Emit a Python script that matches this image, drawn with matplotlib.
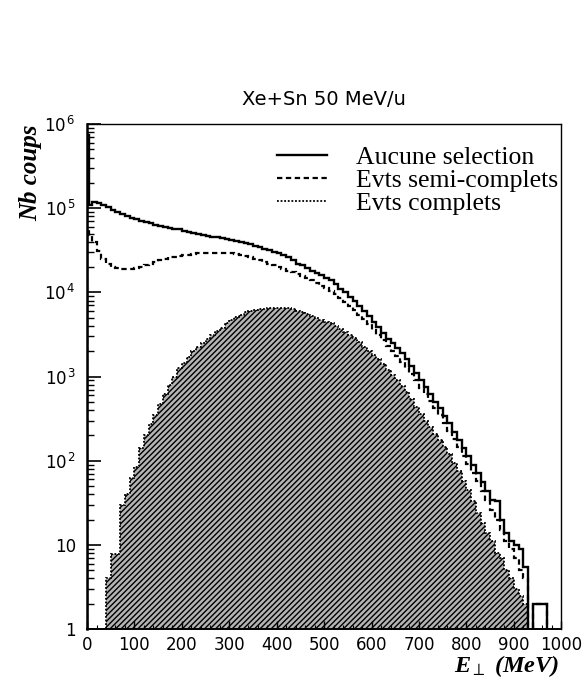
import matplotlib
matplotlib.use("Agg")
import matplotlib.pyplot as plt
import matplotlib.ticker as ticker
import numpy as np

plt.rcParams["font.family"] = "DejaVu Sans"
plt.rcParams["mathtext.fontset"] = "custom"
plt.rcParams["mathtext.it"] = "Liberation Serif:italic:bold"
plt.rcParams["mathtext.rm"] = "Liberation Serif:bold"
plt.rcParams["hatch.linewidth"] = 1.0

# bin edges in MeV (first bin is the narrow peak at zero)
edges = [0, 4] + list(range(10, 1001, 10))

# "Aucune selection"
no_selection = [
    7.5e5, 1.1e5,
    1.2e5, 1.15e5, 1.1e5, 1.02e5, 9.5e4, 9.0e4, 8.5e4, 8.0e4, 7.7e4,
    7.4e4, 7.1e4, 6.8e4, 6.6e4, 6.4e4, 6.2e4, 6.0e4, 5.8e4, 5.7e4, 5.6e4,
    5.4e4, 5.2e4, 5.1e4, 4.9e4, 4.8e4, 4.7e4, 4.6e4, 4.5e4, 4.4e4, 4.3e4,
    4.2e4, 4.1e4, 4.0e4, 3.9e4, 3.8e4, 3.6e4, 3.5e4, 3.3e4, 3.2e4, 3.05e4,
    2.9e4, 2.75e4, 2.6e4, 2.4e4, 2.2e4, 2.1e4, 1.95e4, 1.8e4, 1.7e4, 1.6e4,
    1.5e4, 1.4e4, 1.25e4, 1.1e4, 1.0e4, 8.8e3, 7.8e3, 6.8e3, 6.0e3, 5.2e3,
    4.5e3, 3.9e3, 3.3e3, 2.8e3, 2.5e3, 2.2e3, 1.9e3, 1.6e3, 1.35e3, 1.1e3,
    900, 750, 620, 500, 420, 340, 280, 220, 175, 140,
    115, 90, 72, 56, 44, 34, 33, 20, 14, 11,
    10, 9, 5.5, 0, 2, 2, 2, 0, 0, 0,
]

# "Evts semi-complets"
semi_complete = [
    5.5e4, 4.8e4,
    4.0e4, 3.1e4, 2.5e4, 2.15e4, 2.0e4, 1.95e4, 1.9e4, 1.9e4, 1.9e4,
    1.95e4, 2.0e4, 2.1e4, 2.2e4, 2.3e4, 2.4e4, 2.5e4, 2.6e4, 2.65e4, 2.7e4,
    2.75e4, 2.8e4, 2.85e4, 2.9e4, 2.9e4, 2.95e4, 2.95e4, 2.95e4, 2.95e4, 2.9e4,
    2.9e4, 2.85e4, 2.8e4, 2.7e4, 2.6e4, 2.5e4, 2.4e4, 2.3e4, 2.2e4, 2.1e4,
    2.0e4, 1.9e4, 1.8e4, 1.75e4, 1.65e4, 1.55e4, 1.5e4, 1.4e4, 1.3e4, 1.2e4,
    1.12e4, 1.05e4, 9.5e3, 8.5e3, 7.7e3, 6.9e3, 6.1e3, 5.4e3, 4.8e3, 4.2e3,
    3.6e3, 3.1e3, 2.7e3, 2.3e3, 2.0e3, 1.75e3, 1.5e3, 1.28e3, 1.08e3, 900,
    740, 620, 510, 420, 345, 280, 225, 180, 145, 115,
    92, 72, 57, 44, 34, 26, 20, 15, 11, 9,
    7, 5, 4, 0, 2, 2, 2, 0, 0, 0,
]

# "Evts complets"
complete = [
    0, 0,
    0, 0, 0, 4, 7.8, 7.8, 30, 40, 62,
    85, 140, 200, 270, 350, 470, 620, 800, 1000, 1250,
    1450, 1700, 2000, 2250, 2500, 2800, 3150, 3500, 3800, 4300,
    4700, 5100, 5400, 5800, 6000, 6200, 6300, 6400, 6500, 6550,
    6600, 6600, 6500, 6300, 6000, 5800, 5500, 5200, 5000, 4700,
    4500, 4300, 4000, 3700, 3400, 3150, 2850, 2550, 2250, 2000,
    1800, 1600, 1400, 1200, 1050, 900, 780, 650, 540, 440,
    360, 300, 250, 210, 175, 145, 120, 95, 75, 58,
    45, 33, 24, 18, 14, 11, 8, 7, 5, 4,
    3, 2.5, 2, 0, 0, 0, 0, 0, 0, 0,
]


def floor_zero(values):
    """empty bins go below the axis so the log scale can draw them"""
    arr = np.array(values, dtype=float)
    return np.where(arr > 0, arr, 1e-3)


fig = plt.figure(figsize=(5.84, 6.89), dpi=100)
ax = fig.add_axes([0.149, 0.087, 0.812, 0.733])

ax.stairs(floor_zero(complete), edges, fill=True, baseline=1e-3,
          facecolor="#b4b4b4", edgecolor="black", hatch="//////", linewidth=0)
h3 = ax.stairs(floor_zero(complete), edges, color="black", linewidth=1.3,
               linestyle=(0, (1, 1)), label="Evts complets")
h2 = ax.stairs(floor_zero(semi_complete), edges, color="black", linewidth=1.6,
               linestyle=(0, (2.4, 1.6)), label="Evts semi-complets")
h1 = ax.stairs(floor_zero(no_selection), edges, color="black", linewidth=1.7,
               label="Aucune selection")

ax.set_yscale("log")
ax.set_xlim(0, 1000)
ax.set_ylim(1, 1e6)


def log_label(v, pos):
    if v == 1:
        return "1"
    if v == 10:
        return "10"
    return r"$\mathregular{10^{\,%d}}$" % int(round(np.log10(v)))


ax.yaxis.set_major_locator(ticker.LogLocator(base=10, numticks=10))
ax.yaxis.set_minor_locator(ticker.LogLocator(base=10, subs=np.arange(2, 10), numticks=10))
ax.yaxis.set_major_formatter(ticker.FuncFormatter(log_label))
ax.yaxis.set_minor_formatter(ticker.NullFormatter())
ax.xaxis.set_major_locator(ticker.MultipleLocator(100))
ax.xaxis.set_minor_locator(ticker.MultipleLocator(20))

ax.tick_params(axis="y", which="major", direction="in", length=10, width=1.2,
               labelsize=12, pad=8)
ax.tick_params(axis="y", which="minor", direction="in", length=5, width=1.0)
ax.tick_params(axis="x", which="major", direction="in", length=6, width=1.0,
               labelsize=12, pad=5)
ax.tick_params(axis="x", which="minor", direction="in", length=3, width=0.8)

ax.spines["left"].set_linewidth(1.8)
ax.spines["bottom"].set_linewidth(1.4)
ax.spines["top"].set_linewidth(1.0)
ax.spines["right"].set_linewidth(1.0)

ax.legend(handles=[h1, h2, h3], loc="upper left", bbox_to_anchor=(0.401, 0.957),
          frameon=False, borderpad=0, borderaxespad=0, handlelength=1.95,
          handletextpad=1.13, labelspacing=0.0,
          prop={"family": "Liberation Serif", "size": 18.5})

fig.text(0.555, 0.855, "Xe+Sn 50 MeV/u", ha="center", va="center", fontsize=14)
fig.text(0.052, 0.749, "Nb coups", rotation=90, ha="center", va="center",
         fontsize=18, family="Liberation Serif", weight="bold", style="italic")
fig.text(0.958, 0.052, r"$E_{\perp}$ (MeV)", ha="right", va="top",
         fontsize=17.5, family="Liberation Serif", weight="bold", style="italic")

fig.savefig("out.png", dpi=100)
